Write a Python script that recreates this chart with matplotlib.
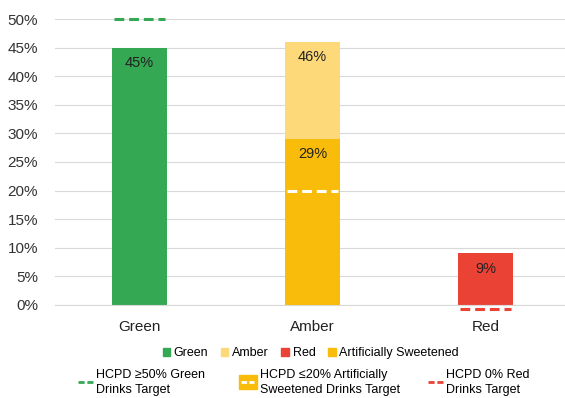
import numpy as np
import matplotlib.pyplot as plt
import matplotlib.transforms as mtransforms
from matplotlib.lines import Line2D
from matplotlib.patches import Patch
from matplotlib.legend_handler import HandlerBase

categories = ["Green", "Amber", "Red"]
category_share = [45, 46, 9]
sweetened_share = 29
targets = [50, 20, 0]
target_labels = ["HCPD \u226550% Green\nDrinks Target",
                 "HCPD \u226420% Artificially\nSweetened Drinks Target",
                 "HCPD 0% Red\nDrinks Target"]

GREEN = "#34A853"
AMBER = "#FDD97A"
RED = "#EA4335"
SWEET = "#F9BC0A"

plt.rcParams["font.family"] = ["Arial", "Liberation Sans", "DejaVu Sans"]

fig = plt.figure(figsize=(5.65, 3.98), dpi=100)
ax = fig.add_axes([0.097, 0.234, 0.903, 0.718])

x = np.arange(len(categories))
w = 0.32
ax.bar(x, category_share, width=w, color=[GREEN, AMBER, RED], zorder=2)
ax.bar(x[1], sweetened_share, width=w, color=SWEET, zorder=3)

for xi, v in zip(x, category_share):
    ax.annotate(f"{v}%", (xi, v), xytext=(0, -6), textcoords="offset points",
                ha="center", va="top", fontsize=10.5, color="#222222", zorder=5)
ax.annotate(f"{sweetened_share}%", (x[1], sweetened_share), xytext=(0, -6),
            textcoords="offset points", ha="center", va="top", fontsize=10.5,
            color="#222222", zorder=5)

# target markers across each bar
tcolors = [GREEN, "white", RED]
shift = [0, 0, -3]
for xi, t, c, s in zip(x, targets, tcolors, shift):
    tr = ax.transData + mtransforms.ScaledTranslation(0, s / 72, fig.dpi_scale_trans)
    ax.plot([xi - w / 2 + 0.01, xi + w / 2 - 0.01], [t, t], color=c, lw=2.2,
            ls=(0, (3.2, 1.6)), transform=tr, clip_on=False, zorder=4)

ax.set_xlim(-0.49, 2.46)
ax.set_ylim(0, 50)
ax.set_yticks(np.arange(0, 51, 5))
ax.set_yticklabels([f"{v}%" for v in range(0, 51, 5)], fontsize=11, color="#333333")
ax.set_xticks(x)
ax.set_xticklabels(categories, fontsize=11, color="#222222")
ax.tick_params(length=0)
ax.tick_params(axis="x", pad=11)
ax.tick_params(axis="y", pad=12)
ax.grid(axis="y", color="#d9d9d9", lw=0.8, zorder=0)
for side in ["top", "right", "left"]:
    ax.spines[side].set_visible(False)
ax.spines["bottom"].set_color("#d9d9d9")


class BoxDash(HandlerBase):
    def create_artists(self, legend, orig, xd, yd, width, height, fontsize, trans):
        box = plt.Rectangle((xd, yd - height * 0.3), width, height * 1.6,
                            color=SWEET, transform=trans)
        ln = Line2D([xd + width * 0.12, xd + width * 0.88],
                    [yd + height / 2, yd + height / 2], color="white", lw=2,
                    ls=(0, (2.0, 0.8)), transform=trans)
        return [box, ln]


h1 = [Patch(color=GREEN), Patch(color=AMBER), Patch(color=RED), Patch(color=SWEET)]
fig.legend(h1, ["Green", "Amber", "Red", "Artificially Sweetened"],
           loc="center", bbox_to_anchor=(0.55, 0.113), ncol=4, frameon=False,
           fontsize=9, handlelength=0.6, handleheight=0.6, handletextpad=0.3,
           columnspacing=1.0)

# target legend entries, placed one by one
sweet_handle = Patch(color=SWEET)
h2 = [Line2D([], [], color=GREEN, lw=2, ls=(0, (2.2, 1.0))),
      sweet_handle,
      Line2D([], [], color=RED, lw=2, ls=(0, (2.2, 1.0)))]
left_px = [78, 239, 428]
hlen = [1.2, 1.4, 1.2]
for h, lab, lx, hl in zip(h2, target_labels, left_px, hlen):
    leg = fig.legend([h], [lab], loc="center left",
                     bbox_to_anchor=(lx / 565, 0.040), frameon=False, fontsize=9,
                     handlelength=hl, handletextpad=0.25, borderpad=0,
                     borderaxespad=0, handler_map={sweet_handle: BoxDash()})
    for t in leg.get_texts():
        t.set_linespacing(1.35)

fig.savefig("out.png", dpi=100)
